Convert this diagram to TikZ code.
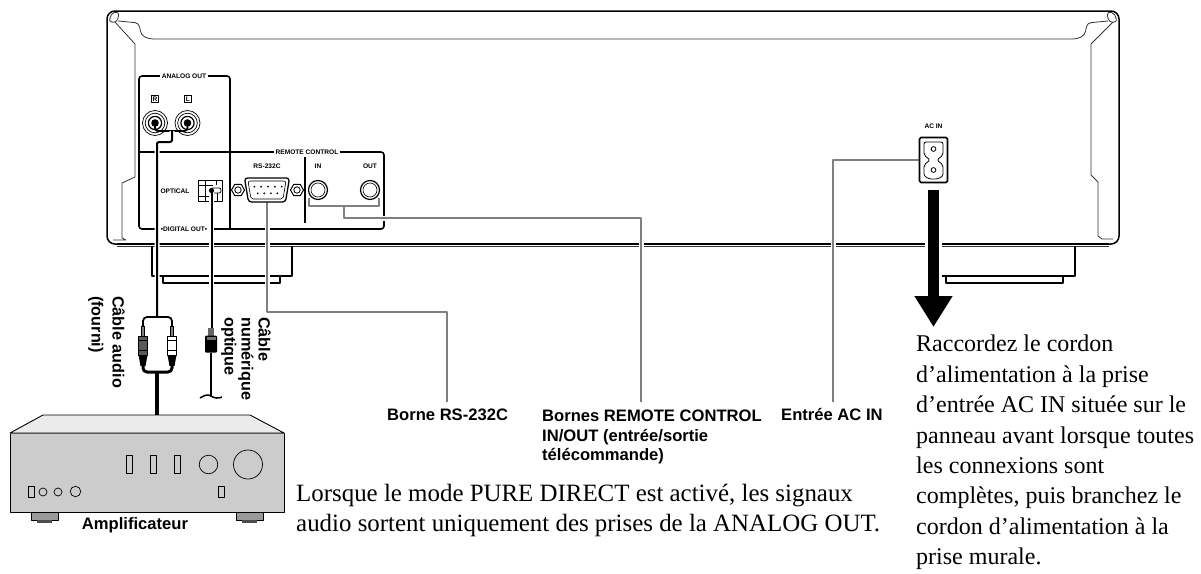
\documentclass[tikz,border=0pt]{standalone}
\usepackage{fontspec}
\setmainfont{Liberation Serif}
\setsansfont{Liberation Sans}
\usetikzlibrary{arrows.meta,shapes.geometric,calc}
\newcommand{\labfont}{\sffamily\bfseries\fontsize{16.6}{19.5}\selectfont}
\newcommand{\tinyfont}{\sffamily\bfseries\fontsize{6.6}{8}\selectfont}
\newcommand{\notefont}{\rmfamily\fontsize{24}{30.4}\selectfont}
\begin{document}
\begin{tikzpicture}
  [x=1pt,y=-1pt,every node/.style={inner sep=0pt},line join=round]
  \tikzstyle{body} = [draw=black,line width=1.5pt]
  \tikzstyle{thin} = [draw=black!80,line width=.8pt]
  \tikzstyle{panel} = [draw=black,line width=1.6pt]
  \tikzstyle{tiny} = [font=\tinyfont,fill=white,inner xsep=1.5pt]
  \tikzstyle{label} = [font=\labfont,align=left]
  \tikzstyle{note} = [font=\notefont,align=left]
  \tikzstyle{cable} = [draw=black,line width=2pt,preaction={draw=white,line width=5pt}]
  \tikzstyle{leader} = [draw=black!50,line width=1.5pt,preaction={draw=white,line width=5pt}]
  \tikzstyle{knob} = [circle,draw=black,fill=black!20,line width=.7pt]
  \tikzstyle{key} = [rectangle,draw=black,fill=black!20,line width=.7pt]
  \useasboundingbox (0,0) rectangle (1201,573);
  % chassis
  \draw[body,rounded corners=8pt] (117,244) -- (107,244) -- (107,11) -- (1119,11) -- (1119,244) -- (1109,244);
  \draw[body] (117,244) -- (1109,244);
  \draw[thin] (117,246.5) -- (1109,246.5);
  \draw[thin,rounded corners=4pt] (118,21) -- (139,23) -- (141,35) -- (149,39) -- (1077,39) -- (1085,35) -- (1087,23) -- (1108,21);
  \draw[thin] (115,22) -- (135,44) -- (135,177) -- (122,183) -- (122,238) -- (126,240) -- (113,240);
  \draw[thin] (1113,22) -- (1091,44) -- (1091,175) -- (1098,182) -- (1098,236) -- (1102,239) -- (1113,239);
  \draw[thin,rounded corners=2pt] (109,21) -- (112,13) -- (118,12) -- (119,17) -- (115,23) -- cycle;
  \draw[thin,rounded corners=2pt] (1117,21) -- (1114,13) -- (1108,12) -- (1107,17) -- (1111,23) -- cycle;
  % feet of the chassis
  \draw[body] (152,246) -- (152,276) -- (292,276) -- (292,246);
  \draw[body] (163,276) -- (163,283) -- (280,283) -- (280,276);
  \draw[body] (1075,246) -- (1075,276) -- (942,276);
  \draw[body] (946,276) -- (946,283) -- (1063,283) -- (1063,276);
  % panels
  \draw[panel,rounded corners=3pt] (139,152) -- (139,76) -- (230,76) -- (230,229);
  \draw[panel,rounded corners=3pt] (139,152) -- (139,229) -- (384,229) -- (384,152) -- (139,152);
  \draw[panel] (305,157) -- (305,223);
  \node[tiny] (analog) at (184,76) {ANALOG OUT};
  \node[tiny] (remote) at (307,152) {REMOTE CONTROL};
  \node[tiny] (digital) at (184,229) {•DIGITAL OUT•};
  \node[font=\tinyfont] (rstxt) at (267,166) {RS-232C};
  \node[font=\tinyfont] (intxt) at (318,166) {IN};
  \node[font=\tinyfont] (outtxt) at (370,166) {OUT};
  \node[font=\tinyfont] (opttxt) at (175,191) {OPTICAL};
  \node[font=\tinyfont] (actxt) at (933.5,126) {AC IN};
  \node[font=\tinyfont,draw=black,line width=.6pt,minimum size=7pt] (rtxt) at (155,99) {R};
  \node[font=\tinyfont,draw=black,line width=.6pt,minimum size=7pt] (ltxt) at (188,99) {L};
  % leaders
  \node[label,anchor=north west] (rslabel) at (387,409) {Borne RS-232C};
  \node[label,anchor=north west] (rclabel) at (542,410) {Bornes REMOTE CONTROL\\IN/OUT (entrée/sortie\\télécommande)};
  \node[label,anchor=north west] (aclabel) at (781,408) {Entrée AC IN};
  \coordinate (dsub) at (267,202);
  \coordinate (rsknee) at (447,312);
  \coordinate (rsfoot) at (447,402);
  \coordinate (rcbus) at (344,206);
  \coordinate (rcknee) at (641,218);
  \coordinate (rcfoot) at (641,402);
  \coordinate (acout) at (919,160);
  \coordinate (acfoot) at (833,402);
  \draw[leader] (dsub) |- (rsknee) -- (rsfoot);
  \draw[leader] (rcbus) |- (rcknee) -- (rcfoot);
  \draw[leader] (acout) -| (acfoot);
  % sockets
  \draw[draw=black,fill=white,line width=1.3pt,rounded corners=3pt] (244.5,178) -- (289.5,178) -- (285.5,202) -- (248.5,202) -- cycle;
  \draw[draw=black,line width=.6pt,rounded corners=2pt] (248,181) -- (286,181) -- (283,199) -- (251,199) -- cycle;
  \foreach \x in {254.3,261.1,268,274.9,281.7}
    \fill (\x,186.7) circle (1);
  \foreach \x in {257.7,264.2,270.8,277.3}
    \fill (\x,193.3) circle (1);
  \foreach \name/\x in {screwl/238,screwr/297} {
    \node[regular polygon,regular polygon sides=6,draw=black,line width=1pt,minimum size=13pt] (\name) at (\x,190) {};
    \draw[line width=.8pt] (\name.center) circle (3.2);
  }
  \foreach \name/\x in {jackin/318,jackout/370} {
    \node[circle,draw=black,line width=1.2pt,minimum size=19pt] (\name) at (\x,190) {};
    \draw[line width=.6pt] (\name.center) circle (7);
  }
  \draw[draw=black!50,line width=1.5pt] (309,198) |- (379,206) -- (379,198);
  \draw[draw=black!50,line width=1.5pt] (rcbus) -- (344,218);
  \foreach \name/\x in {jackr/155,jackl/187.5} {
    \node[circle,draw=black,line width=.7pt,minimum size=25pt] (\name) at (\x,123) {};
    \draw[line width=.7pt] (\name.center) circle (9.8);
    \draw[line width=1.2pt] (\name.center) circle (6.6);
    \fill (\name.center) circle (3.8);
  }
  % optical port
  \node[rectangle,draw=black,fill=white,line width=1.4pt,minimum width=24pt,minimum height=21pt] (optport) at (210.5,191) {};
  \draw[line width=1pt] (198,185) -- (213,185) (198,196) -- (213,196) (205,180) -- (205,202) (216,180) -- (216,185);
  \draw[line width=.7pt,fill=white,rounded corners=2pt] (212,188) -- (221,188) -- (221,193) -- (212,193);
  \draw[line width=.9pt] (217,193) -- (217,201);
  % cables
  \coordinate (busr) at (155,123);
  \coordinate (busl) at (187.5,123);
  \coordinate (bustap) at (172,131);
  \coordinate (split) at (157,317);
  \coordinate (merge) at (157,372);
  \coordinate (ampin) at (157,415);
  \coordinate (optend) at (211,397);
  \coordinate (optin) at (211.5,190.5);
  \coordinate (optdrop) at (211.5,330);
  \draw[line width=1.8pt,rounded corners=3pt] (busr) -- (155,131) -- (187.5,131) -- (busl);
  \draw[cable,rounded corners=2pt] (bustap) -- (172,142) -- (157,142) -- (split);
  \fill (jackr.center) circle (3) (jackl.center) circle (3);
  \draw[cable] (optin) -- (optdrop);
  \fill (optin) circle (2.6);
  % plugs
  \draw[line width=1.8pt,rounded corners=4pt] (143,328) -- (143,317) -- (172,317) -- (172,328);
  \draw[line width=3pt,rounded corners=4pt] (143,363) -- (143,372) -- (172,372) -- (172,363);
  \draw[line width=3.4pt] (merge) -- (ampin);
  \foreach \name/\x/\tone in {plugl/143/black!65,plugr/172/white} {
    \draw[line width=.8pt,fill=black!50] (\x-1.5,326) rectangle (\x+1.5,336);
    \node[rectangle,draw=black,fill=\tone,line width=1pt,minimum width=9pt,minimum height=19pt] (\name) at (\x,345.5) {};
    \draw[line width=.8pt] (\x-4.5,340) -- (\x+4.5,340) (\x-4.5,350) -- (\x+4.5,350);
    \fill (\x-4.5,355) -- (\x+4.5,355) -- (\x+2.5,366) -- (\x-2.5,366) -- cycle;
  }
  \fill[black!60] (208,328) rectangle (214,336);
  \node[rectangle,fill=black,rounded corners=1pt,minimum width=12pt,minimum height=17pt] (optplug) at (211,344) {};
  \fill[black!55] (206.5,337) rectangle (215.5,340);
  \draw[line width=2.6pt] (optplug.south) -- (optend);
  \draw[line width=1.5pt] (200,398) .. controls (205,395) and (208,394) .. (211,396) .. controls (214,398) and (218,399) .. (222,397);
  % AC inlet
  \node[rectangle,draw=black,fill=white,line width=1.6pt,rounded corners=1.5pt,minimum width=28pt,minimum height=45pt] (acbox) at (933.5,160) {};
  \draw[line width=.8pt,rounded corners=2pt] (924,142) -- (943,142) -- (943,155) -- (937,160) -- (943,165) -- (943,172) .. controls (943,177) and (938,179) .. (933.5,179) .. controls (929,179) and (924,177) .. (924,172) -- (924,165) -- (930,160) -- (924,155) -- cycle;
  \draw[line width=.8pt] (933.5,149) circle (2.4) (933.5,170) circle (2.4);
  \coordinate (arrowtop) at (933.5,190);
  \coordinate (arrowtip) at (933.5,327);
  \draw[white,line width=17pt] (933.5,241) -- (933.5,249);
  \draw[line width=11.5pt,-{Triangle[length=31pt,width=36pt]}] (arrowtop) -- (arrowtip);
  % amplifier
  \draw[thin,line width=.9pt,draw=black,fill=black!8] (10,433) -- (43,415) -- (250,415) -- (284,433) -- cycle;
  \draw[draw=black,line width=.8pt,fill=black!20] (10,433) rectangle (284,512);
  \draw[black!65,line width=1.6pt] (10,433.5) -- (284,433.5);
  \foreach \name/\x in {footl/31,footr/236} {
    \draw[draw=black,line width=.8pt,fill=black!40] (\x,512) rectangle (\x+27.5,520);
    \fill[black!70] (\x+6,520) rectangle (\x+21,522.5);
  }
  \foreach \name/\x/\y in {keya/129/464,keyb/153/464,keyc/177/464} {
    \node[key,minimum width=6pt,minimum height=18pt] (\name) at (\x,\y) {};
  }
  \node[key,minimum width=6pt,minimum height=11pt] (keyd) at (221.5,491.5) {};
  \node[key,minimum width=6pt,minimum height=11pt] (keye) at (31,491.5) {};
  \foreach \name/\x/\y/\dia in {knoba/43/492/8,knobb/58/492/8,knobc/75.5/491.5/10.5,knobd/208.5/464.5/18.5,knobe/248/464.5/29} {
    \node[knob,minimum size=\dia pt] (\name) at (\x,\y) {};
  }
  % texts
  \node[label] (amplabel) at (135,525) {Amplificateur};
  \node[label,anchor=north west,rotate=-90,font=\sffamily\bfseries\fontsize{16.2}{21}\selectfont] (audiolabel) at (125,296) {Câble audio\\(fourni)};
  \node[label,anchor=north west,rotate=-90,font=\sffamily\bfseries\fontsize{16.2}{17}\selectfont] (optlabel) at (271,317) {Câble\\numérique\\optique};
  \node[note,anchor=north west,font=\rmfamily\fontsize{24.9}{30.5}\selectfont] (puretxt) at (296,483.5) {Lorsque le mode PURE DIRECT est activé, les signaux\\audio sortent uniquement des prises de la ANALOG OUT.};
  \node[note,anchor=north west] (walltxt) at (916,335) {Raccordez le cordon\\d’alimentation à la prise\\d’entrée AC IN située sur le\\panneau avant lorsque toutes\\les connexions sont\\complètes, puis branchez le\\cordon d’alimentation à la\\prise murale.};
\end{tikzpicture}
\end{document}
